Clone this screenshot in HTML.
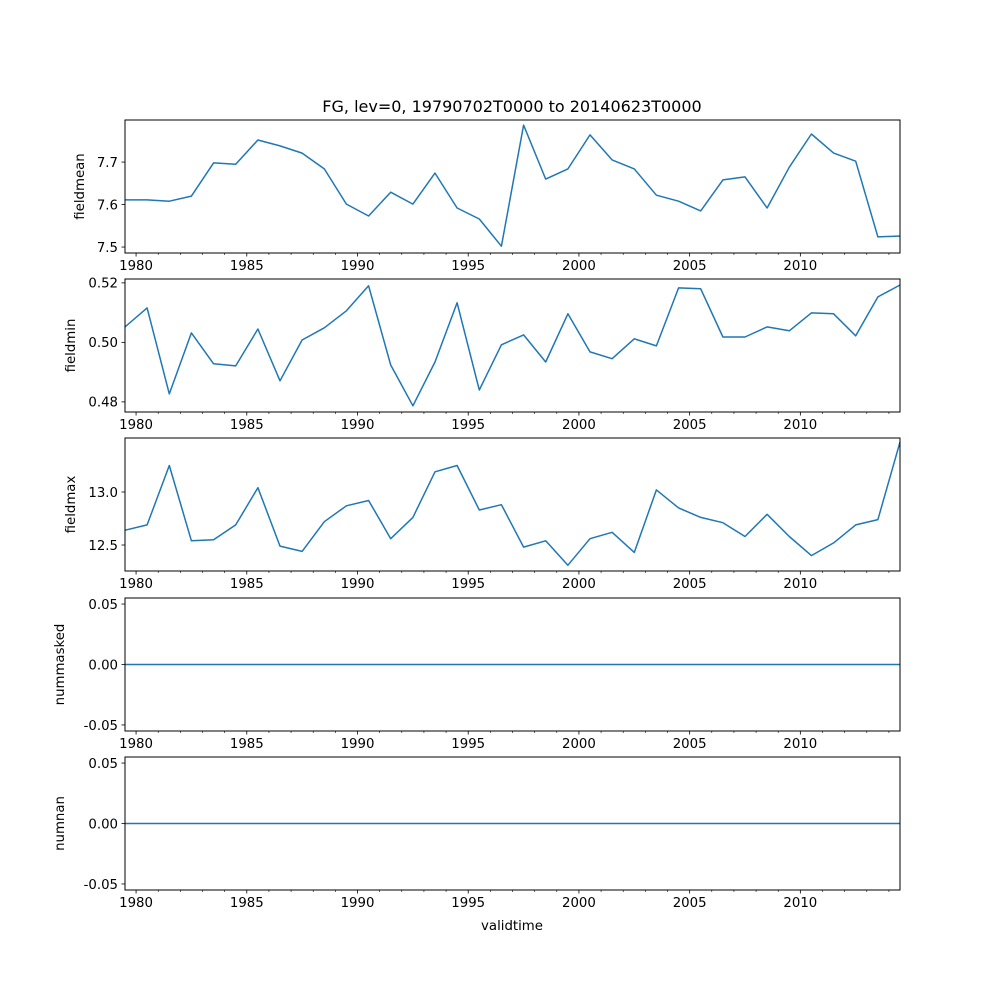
<!DOCTYPE html>
<html><head><meta charset="utf-8"><style>
body{margin:0;background:#fff}
svg text{font-family:"DejaVu Sans","Liberation Sans",sans-serif;font-size:13.3px;fill:#000}
svg text.title{font-size:16px}
</style></head><body>
<svg id="fig" width="1000" height="1000" viewBox="0 0 1000 1000" xmlns="http://www.w3.org/2000/svg">
<rect width="1000" height="1000" fill="#fff"/>
<text class="title" x="512" y="112" text-anchor="middle">FG, lev=0, 19790702T0000 to 20140623T0000</text>
<text x="512" y="930" text-anchor="middle">validtime</text>
</svg>
<script>
const years = [1979.5,1980.5,1981.5,1982.5,1983.5,1984.5,1985.5,1986.5,1987.5,1988.5,1989.5,1990.5,1991.5,1992.5,1993.5,1994.5,1995.5,1996.5,1997.5,1998.5,1999.5,2000.5,2001.5,2002.5,2003.5,2004.5,2005.5,2006.5,2007.5,2008.5,2009.5,2010.5,2011.5,2012.5,2013.5,2014.5];
const fieldmean = [7.611,7.611,7.608,7.620,7.698,7.695,7.752,7.738,7.721,7.684,7.601,7.573,7.629,7.601,7.674,7.592,7.566,7.502,7.787,7.660,7.684,7.764,7.705,7.684,7.622,7.608,7.585,7.658,7.665,7.592,7.688,7.766,7.721,7.702,7.524,7.526];
const fieldmin = [0.5052,0.5116,0.4827,0.5032,0.4928,0.4921,0.5045,0.4871,0.5008,0.5049,0.5106,0.5190,0.4924,0.4787,0.4934,0.5133,0.4840,0.4992,0.5025,0.4934,0.5096,0.4968,0.4945,0.5012,0.4988,0.5183,0.5180,0.5018,0.5018,0.5052,0.5039,0.5099,0.5096,0.5022,0.5153,0.5193];
const fieldmax = [12.64,12.69,13.25,12.54,12.55,12.69,13.04,12.49,12.44,12.72,12.87,12.92,12.56,12.76,13.19,13.25,12.83,12.88,12.48,12.54,12.31,12.56,12.62,12.43,13.02,12.85,12.76,12.71,12.58,12.79,12.58,12.40,12.52,12.69,12.74,13.47];
const nummasked = [0,0,0,0,0,0,0,0,0,0,0,0,0,0,0,0,0,0,0,0,0,0,0,0,0,0,0,0,0,0,0,0,0,0,0,0];
const numnan = [0,0,0,0,0,0,0,0,0,0,0,0,0,0,0,0,0,0,0,0,0,0,0,0,0,0,0,0,0,0,0,0,0,0,0,0];
const xTickLabels = [1980,1985,1990,1995,2000,2005,2010];
const meanTicks = ["7.5","7.6","7.7"];
const minTicks = ["0.48","0.50","0.52"];
const maxTicks = ["12.5","13.0"];
const zeroTicks = ["-0.05","0.00","0.05"];

const svg = document.getElementById('fig');
const NS = 'http://www.w3.org/2000/svg';
const X0 = 125, X1 = 900, XMIN = 1979.5, XMAX = 2014.5;
const xs = v => X0 + (v - XMIN) / (XMAX - XMIN) * (X1 - X0);
function mk(tag, attrs, parent) {
  const e = document.createElementNS(NS, tag);
  for (const k in attrs) e.setAttribute(k, attrs[k]);
  (parent || svg).appendChild(e);
  return e;
}
const panels = [
  {name:'fieldmean', data:fieldmean, ticks:meanTicks, top:120, bot:253, lo:7.486, hi:7.799},
  {name:'fieldmin', data:fieldmin, ticks:minTicks, top:279, bot:412, lo:0.4766, hi:0.5213},
  {name:'fieldmax', data:fieldmax, ticks:maxTicks, top:438, bot:571, lo:12.255, hi:13.509},
  {name:'nummasked', data:nummasked, ticks:zeroTicks, top:598, bot:731, lo:-0.055, hi:0.055},
  {name:'numnan', data:numnan, ticks:zeroTicks, top:757, bot:890, lo:-0.055, hi:0.055}
];
panels.forEach(p => {
  const g = mk('g', {});
  
  
  const ys = v => p.bot - (v - p.lo) / (p.hi - p.lo) * (p.bot - p.top);
  const d = p.data.map((v, i) => (i ? 'L' : 'M') + xs(years[i]).toFixed(1) + ',' + ys(v).toFixed(1)).join('');
  const line = mk('path', {d: d, fill: 'none', stroke: '#1f77b4', 'stroke-width': 1.5, 'stroke-linejoin': 'round'}, g);
  
  
  const fr = mk('rect', {x: X0, y: p.top, width: X1 - X0, height: p.bot - p.top, fill: 'none', stroke: '#000', 'stroke-width': 1}, g);
  
  
  for (let y = 1980; y <= 2014; y++) {
    const x = xs(y);
    mk('line', {x1: x, x2: x, y1: p.bot, y2: p.bot + (y % 5 === 0 ? 3.5 : 2), stroke: '#000', 'stroke-width': y % 5 === 0 ? 0.8 : 0.6}, g);
  }
  xTickLabels.forEach(y => {
    const t = mk('text', {x: xs(y), y: p.bot + 17, 'text-anchor': 'middle'}, g);
    t.textContent = y;
    
    
  });
  p.ticks.forEach(s => {
    const v = parseFloat(s), y = ys(v);
    mk('line', {x1: X0 - 3.5, x2: X0, y1: y, y2: y, stroke: '#000', 'stroke-width': 0.8}, g);
    const t = mk('text', {x: X0 - 7, y: y + 4.8, 'text-anchor': 'end'}, g);
    t.textContent = s;
    
    
  });
  const cy = (p.top + p.bot) / 2;
  const lx = p.name === 'fieldmean' ? 84 : (p.name === 'fieldmin' || p.name === 'fieldmax' ? 75 : 64);
  const yl = mk('text', {x: lx, y: cy, 'text-anchor': 'middle', transform: 'rotate(-90 ' + lx + ' ' + cy + ')'}, g);
  yl.textContent = p.name;
  
  
});
</script>
</body></html>
